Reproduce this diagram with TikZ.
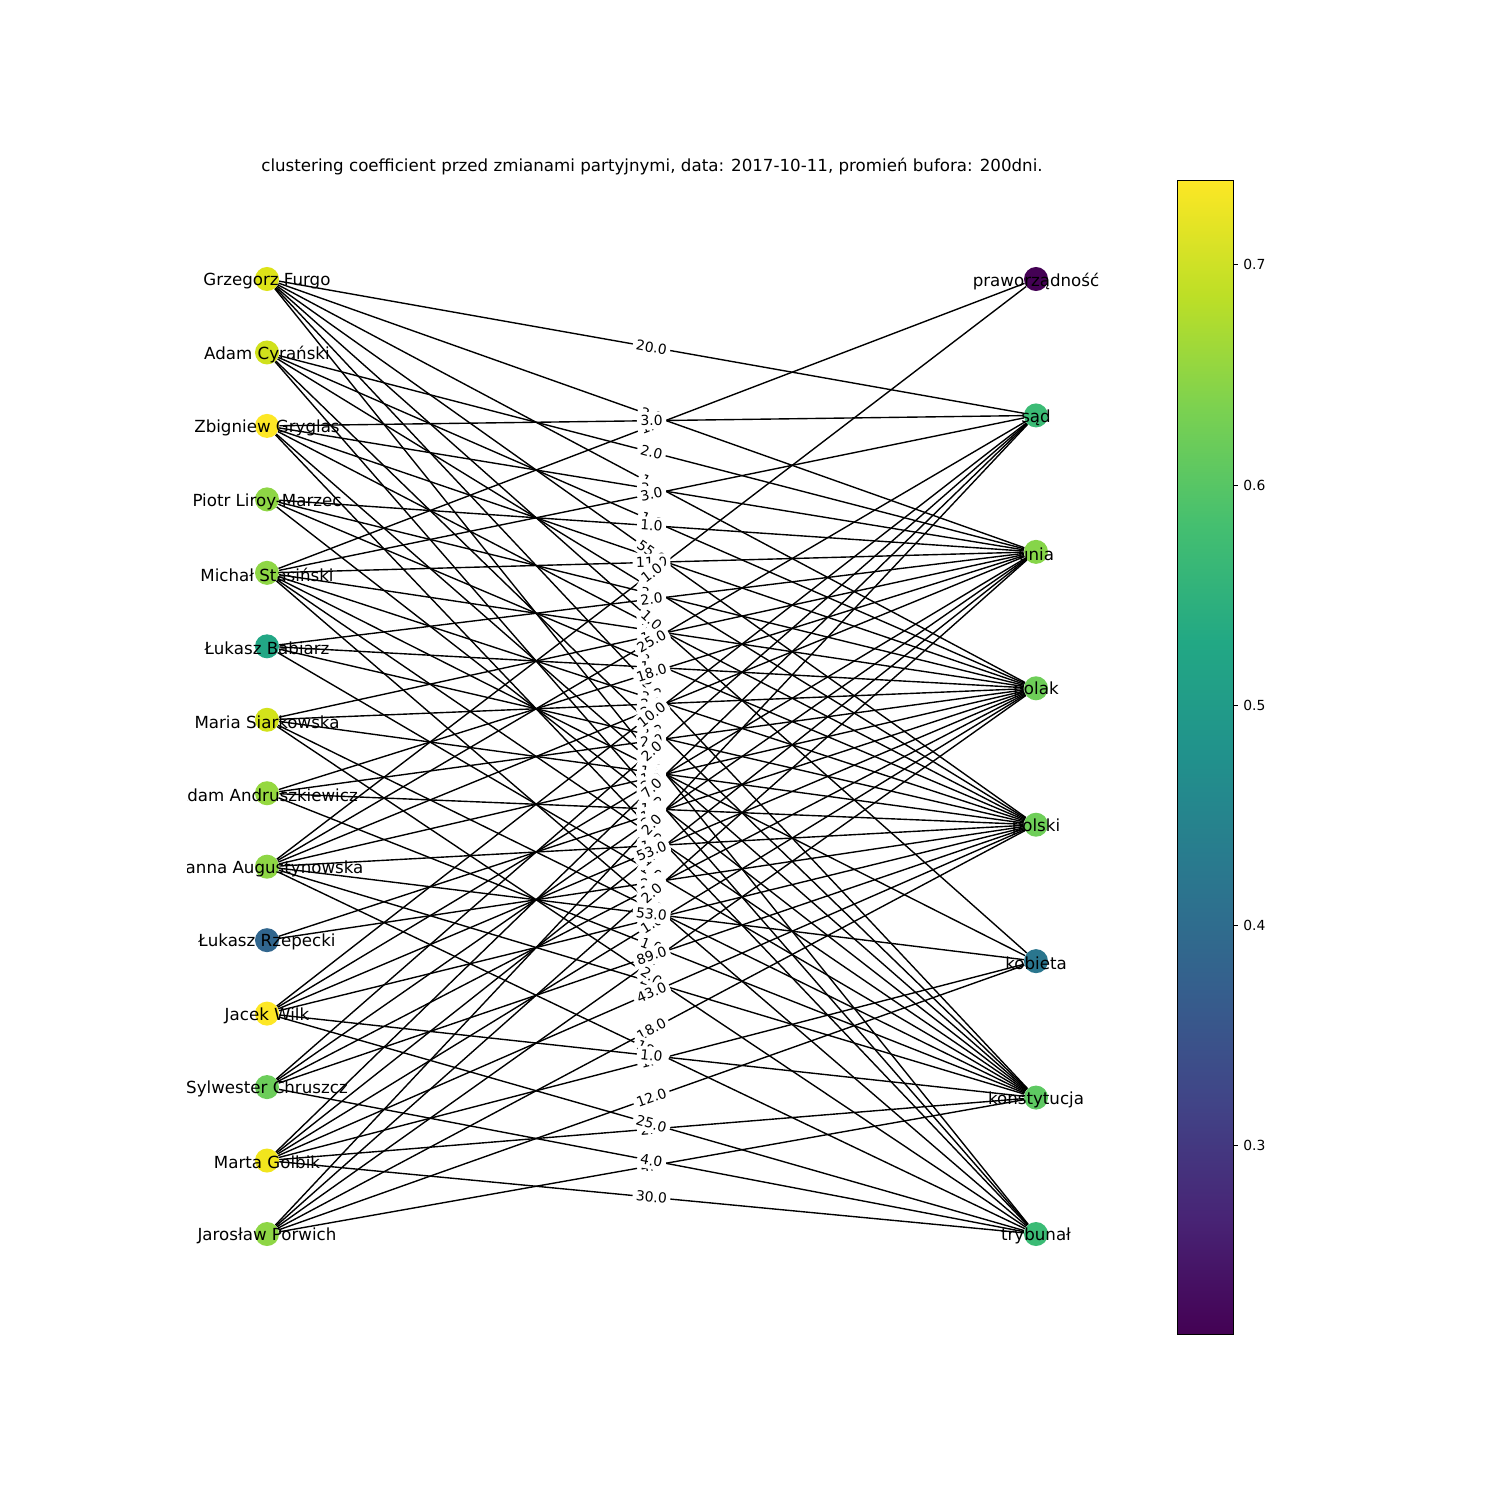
\documentclass[tikz,border=0pt]{standalone}
\usepackage{fontspec}
\setmainfont{DejaVu Sans}
\pgfdeclarelayer{back}
\pgfdeclarelayer{bg}
\pgfdeclarelayer{mid}
\pgfsetlayers{back,bg,mid,main}
\definecolor{v0}{HTML}{440154}
\definecolor{v1}{HTML}{482475}
\definecolor{v2}{HTML}{414487}
\definecolor{v3}{HTML}{355F8D}
\definecolor{v4}{HTML}{2A788E}
\definecolor{v5}{HTML}{21918C}
\definecolor{v6}{HTML}{22A884}
\definecolor{v7}{HTML}{44BF70}
\definecolor{v8}{HTML}{7AD151}
\definecolor{v9}{HTML}{BDDF26}
\definecolor{v10}{HTML}{FDE725}
\pgfdeclareverticalshading{viridis}{100bp}{color(0bp)=(v0); color(25bp)=(v0); color(30bp)=(v1); color(35bp)=(v2); color(40bp)=(v3); color(45bp)=(v4); color(50bp)=(v5); color(55bp)=(v6); color(60bp)=(v7); color(65bp)=(v8); color(70bp)=(v9); color(75bp)=(v10); color(100bp)=(v10)}
\definecolor{cL0}{HTML}{DDE318}
\definecolor{cL1}{HTML}{D0E11C}
\definecolor{cL2}{HTML}{FDE725}
\definecolor{cL3}{HTML}{8ED645}
\definecolor{cL4}{HTML}{8ED645}
\definecolor{cL5}{HTML}{22A785}
\definecolor{cL6}{HTML}{D2E21B}
\definecolor{cL7}{HTML}{95D840}
\definecolor{cL8}{HTML}{8ED645}
\definecolor{cL9}{HTML}{31668E}
\definecolor{cL10}{HTML}{FDE725}
\definecolor{cL11}{HTML}{6CCD5A}
\definecolor{cL12}{HTML}{F1E51D}
\definecolor{cL13}{HTML}{8ED645}
\definecolor{cR0}{HTML}{440154}
\definecolor{cR1}{HTML}{3BBB75}
\definecolor{cR2}{HTML}{86D549}
\definecolor{cR3}{HTML}{6ECE58}
\definecolor{cR4}{HTML}{6ECE58}
\definecolor{cR5}{HTML}{2A768E}
\definecolor{cR6}{HTML}{5EC962}
\definecolor{cR7}{HTML}{3BBB75}
\begin{document}
\begin{tikzpicture}[x=0.72pt,y=-0.72pt,
  dot/.style={circle,minimum size=17.3pt,inner sep=0pt},
  nlab/.style={font=\fontsize{12}{14}\selectfont,inner sep=0pt,yshift=-1.5pt},
  elab/.style={font=\fontsize{10}{12}\selectfont,fill=white,inner sep=2.5pt,rounded corners=2.5pt,sloped},
  edge/.style={line width=1pt,black}]
\useasboundingbox (0,0) rectangle (1500,1500);
\begin{pgfonlayer}{back}
\fill[white] (0,0) rectangle (1500,1500);
\end{pgfonlayer}
\node[font=\fontsize{12}{14}\selectfont] (title) at (652,167) {clustering coefficient przed zmianami partyjnymi, data: 2017-10-11, promień bufora: 200dni.};
\foreach \i in {0,...,13} {
  \node[dot,fill=cL\i] (L\i) at (267,{279+73.4615*\i}) {};
}
\foreach \j in {0,...,7} {
  \node[dot,fill=cR\j] (R\j) at (1036,{279+136.4286*\j}) {};
}
\begin{scope}
\clip (187.5,0) rectangle (1500,1500);
\node[nlab] (T0) at (L0) {Grzegorz Furgo};
\node[nlab] (T1) at (L1) {Adam Cyrański};
\node[nlab] (T2) at (L2) {Zbigniew Gryglas};
\node[nlab] (T3) at (L3) {Piotr Liroy-Marzec};
\node[nlab] (T4) at (L4) {Michał Stasiński};
\node[nlab] (T5) at (L5) {Łukasz Babiarz};
\node[nlab] (T6) at (L6) {Maria Siarkowska};
\node[nlab] (T7) at (L7) {Adam Andruszkiewicz};
\node[nlab] (T8) at (L8) {Joanna Augustynowska};
\node[nlab] (T9) at (L9) {Łukasz Rzepecki};
\node[nlab] (T10) at (L10) {Jacek Wilk};
\node[nlab] (T11) at (L11) {Sylwester Chruszcz};
\node[nlab] (T12) at (L12) {Marta Golbik};
\node[nlab] (T13) at (L13) {Jarosław Porwich};
\node[nlab] (S0) at (R0) {praworządność};
\node[nlab] (S1) at (R1) {sąd};
\node[nlab] (S2) at (R2) {unia};
\node[nlab] (S3) at (R3) {polak};
\node[nlab] (S4) at (R4) {polski};
\node[nlab] (S5) at (R5) {kobieta};
\node[nlab] (S6) at (R6) {konstytucja};
\node[nlab] (S7) at (R7) {trybunał};
\end{scope}
\def\edgelist{0/2/2.0,0/3/1.0,0/6/2.0,0/7/3.0,
1/3/1.0,1/4/1.0,1/6/2.0,1/7/1.0,
2/2/2.0,2/3/1.0,2/4/3.0,2/6/1.0,2/7/2.0,
3/3/2.0,3/4/2.0,3/6/1.0,
4/0/1.0,4/3/2.0,4/4/2.0,4/5/1.0,4/6/2.0,4/7/1.0,
5/3/1.0,5/4/2.0,5/6/1.0,
6/2/1.0,6/3/2.0,6/4/1.0,6/6/2.0,
7/2/18.0,7/3/2.0,7/4/1.0,7/6/1.0,
8/2/2.0,8/3/1.0,8/4/1.0,8/6/2.0,
9/3/1.0,9/4/2.0,
10/2/2.0,10/4/1.0,
11/2/2.0,11/3/1.0,
12/2/1.0,12/3/1.0,12/5/1.0,12/6/2.0,
13/2/2.0,13/3/1.0,13/6/4.0,
0/1/20.0,2/1/3.0,1/2/2.0,4/1/3.0,3/2/1.0,0/4/55.0,4/2/11.0,8/0/1.0,5/2/2.0,0/5/1.0,
8/1/25.0,10/1/10.0,11/1/2.0,12/1/7.0,13/1/2.0,10/3/53.0,8/5/53.0,11/4/89.0,6/7/2.0,
12/4/43.0,13/4/18.0,8/7/18.0,10/6/1.0,13/5/12.0,10/7/25.0,11/7/4.0,12/7/30.0}
\begin{pgfonlayer}{bg}
\foreach \a/\b/\w in \edgelist { \draw[edge] (L\a) -- (R\b); }
\end{pgfonlayer}
\begin{pgfonlayer}{mid}
\foreach \a/\b/\w in \edgelist { \path (L\a) -- node[elab] {\w} (R\b); }
\end{pgfonlayer}
\shade[shading=viridis] (1177,180) rectangle (1233,1334);
\draw[line width=0.6pt] (1177,180) rectangle (1233,1334);
\foreach \v/\y in {0.3/1145,0.4/925,0.5/705,0.6/485,0.7/264} {
  \draw[line width=0.6pt] (1233,\y) -- (1238,\y);
  \node[anchor=west,font=\fontsize{10}{12}\selectfont,inner sep=0pt] at (1243,\y) {\v};
}
\end{tikzpicture}
\end{document}
